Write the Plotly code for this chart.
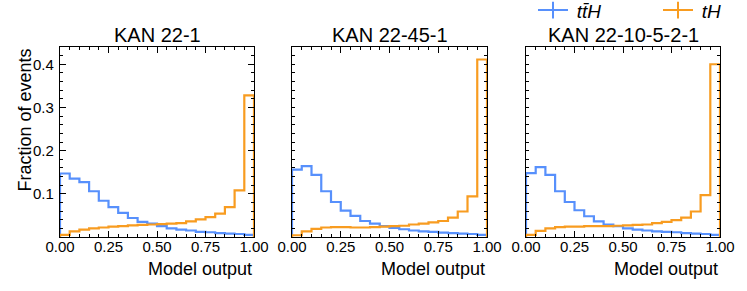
import numpy as np
import plotly.graph_objects as go

# ---------------- data ----------------
bin_edges = np.linspace(0.0, 1.0, 21)

panel_titles = ["KAN 22-1", "KAN 22-45-1", "KAN 22-10-5-2-1"]

tth_kan_22_1 = [0.147, 0.135, 0.127, 0.106, 0.084, 0.069, 0.056, 0.044, 0.035, 0.031,
                0.025, 0.020, 0.017, 0.015, 0.012, 0.011, 0.009, 0.008, 0.007, 0.005]
th_kan_22_1 = [0.005, 0.013, 0.017, 0.020, 0.022, 0.024, 0.025, 0.027, 0.028, 0.029,
               0.030, 0.031, 0.032, 0.036, 0.041, 0.046, 0.054, 0.069, 0.108, 0.328]

tth_kan_22_45_1 = [0.156, 0.164, 0.144, 0.106, 0.081, 0.061, 0.049, 0.037, 0.031, 0.025,
                   0.021, 0.018, 0.015, 0.013, 0.012, 0.010, 0.009, 0.008, 0.007, 0.005]
th_kan_22_45_1 = [0.004, 0.013, 0.019, 0.022, 0.023, 0.023, 0.022, 0.022, 0.023, 0.024,
                  0.025, 0.026, 0.029, 0.031, 0.034, 0.037, 0.045, 0.059, 0.094, 0.411]

tth_kan_22_10_5_2_1 = [0.148, 0.162, 0.144, 0.106, 0.081, 0.062, 0.048, 0.036, 0.029, 0.025,
                       0.020, 0.017, 0.015, 0.013, 0.012, 0.011, 0.009, 0.008, 0.007, 0.005]
th_kan_22_10_5_2_1 = [0.005, 0.014, 0.020, 0.023, 0.024, 0.024, 0.025, 0.025, 0.025, 0.026,
                      0.027, 0.028, 0.029, 0.032, 0.035, 0.039, 0.045, 0.059, 0.097, 0.400]

series_names = ["\u2009<i>tt\u0304H</i>", "\u2009<i>tH</i>"]
series_colors = ["#5790fc", "#f89c20"]

x_tick_vals = [0.0, 0.25, 0.5, 0.75, 1.0]
x_tick_text = ["0.00", "0.25", "0.50", "0.75", "1.00"]
y_tick_vals = [0.1, 0.2, 0.3, 0.4]
y_tick_text = ["0.1", "0.2", "0.3", "0.4"]

panels = [
    (tth_kan_22_1, th_kan_22_1),
    (tth_kan_22_45_1, th_kan_22_45_1),
    (tth_kan_22_10_5_2_1, th_kan_22_10_5_2_1),
]

# ---------------- layout geometry ----------------
W, H = 747, 291
x_px = [(60, 254), (292, 487), (526, 720)]
y_top, y_bot = 47, 237
FONT = "Liberation Sans, Arial, Helvetica, sans-serif"


def step_xy(vals):
    e = list(bin_edges)
    xs = [e[0]] + e[:-1] + [e[-1], e[-1]]
    ys = [0.0] + list(vals) + [vals[-1], 0.0]
    return xs, ys


fig = go.Figure()

for i, (tth, th) in enumerate(panels):
    xa = "x" if i == 0 else f"x{i+1}"
    ya = "y" if i == 0 else f"y{i+1}"
    for vals, color in zip((tth, th), series_colors):
        xs, ys = step_xy(vals)
        fig.add_trace(go.Scatter(
            x=xs, y=ys, mode="lines", line=dict(color=color, width=2.2, shape="hv"),
            xaxis=xa, yaxis=ya, showlegend=False, hoverinfo="skip",
        ))

# legend-only traces (errorbar-style cross)
for name, color in zip(series_names, series_colors):
    fig.add_trace(go.Scatter(
        x=[None], y=[None], mode="lines+markers", name=name,
        line=dict(color=color, width=2),
        marker=dict(symbol="line-ns", size=12, color=color, line=dict(color=color, width=2)),
    ))

axis_common = dict(
    showline=True, linecolor="black", linewidth=1.3, mirror="allticks",
    ticks="inside", tickcolor="black", ticklen=6, tickwidth=1,
    showgrid=False, zeroline=False, automargin=False,
    tickfont=dict(family=FONT, size=15, color="black"),
)

layout = dict(
    width=W, height=H, margin=dict(l=0, r=0, t=0, b=0, autoexpand=False),
    plot_bgcolor="white", paper_bgcolor="white",
    font=dict(family=FONT, color="black"),
    showlegend=True,
    legend=dict(
        orientation="h", x=533 / W, xanchor="left", y=1.03, yanchor="top",
        font=dict(family=FONT, size=19, color="black"),
        bgcolor="rgba(0,0,0,0)", itemwidth=30, tracegroupgap=0,
        entrywidth=80, entrywidthmode="pixels",
    ),
)

annotations = []
for i in range(3):
    sx = "" if i == 0 else str(i + 1)
    x0, x1 = x_px[i]
    layout[f"xaxis{sx}"] = dict(
        axis_common, domain=[x0 / W, x1 / W], range=[0, 1], anchor=f"y{sx}",
        tickvals=x_tick_vals, ticktext=x_tick_text, ticklabelstandoff=-4,
        minor=dict(dtick=0.05, tick0=0, ticks="inside", ticklen=3, tickcolor="black"),
    )
    layout[f"yaxis{sx}"] = dict(
        axis_common, domain=[(H - y_bot) / H, (H - y_top) / H], range=[0, 0.44],
        anchor=f"x{sx}", tickvals=y_tick_vals,
        ticktext=y_tick_text if i == 0 else [""] * 4,
        showticklabels=(i == 0), ticklabelstandoff=2,
        minor=dict(dtick=0.02, tick0=0, ticks="inside", ticklen=3, tickcolor="black"),
    )
    annotations.append(dict(
        text=panel_titles[i], xref="paper", yref="paper",
        x=(x0 + x1) / 2 / W, y=(H - 35) / H, xanchor="center", yanchor="middle",
        showarrow=False, font=dict(family=FONT, size=20, color="black"),
    ))
    annotations.append(dict(
        text="Model output", xref="paper", yref="paper",
        x=x1 / W, y=(H - 269) / H, xanchor="right", yanchor="middle",
        showarrow=False, font=dict(family=FONT, size=18, color="black"),
    ))

annotations.append(dict(
    text="Fraction of events", xref="paper", yref="paper",
    x=24 / W, y=(H - y_top) / H, xanchor="center", yanchor="top", textangle=-90,
    showarrow=False, font=dict(family=FONT, size=18, color="black"),
))
layout["annotations"] = annotations

fig.update_layout(**layout)
fig.write_html(
    "out.html",
    config={"displayModeBar": False},
    post_script="document.body.style.margin='0';document.body.style.padding='0';",
)
